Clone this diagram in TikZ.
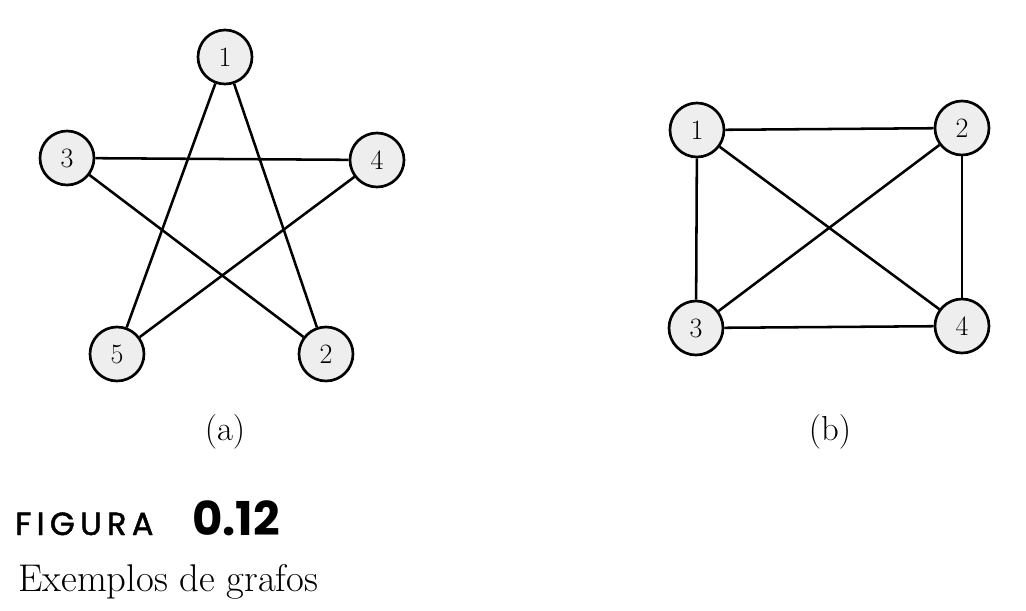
\documentclass[tikz,border=0pt]{standalone}
\usepackage{fontspec}
\newfontfamily\capfont{Poppins}[FakeBold=1.5]
\newfontfamily\capfontbold{Poppins}[UprightFont=* Bold]
\definecolor{nodefill}{HTML}{EEEEEE}
\begin{document}
\begin{tikzpicture}[x=0.75pt,y=-0.75pt,
  vert/.style={circle,draw,line width=2pt,fill=nodefill,minimum size=54*0.75pt,inner sep=0pt,font=\fontsize{21}{24}\selectfont},
  edge/.style={line width=1.9pt},
  sublabel/.style={font=\fontsize{26}{30}\selectfont}]
\useasboundingbox (0,0) rectangle (1026,611);
% graph (a)
\node[vert] (a1) at (225,57) {1};
\node[vert] (a3) at (67,158) {3};
\node[vert] (a4) at (377,160) {4};
\node[vert] (a5) at (117,354) {5};
\node[vert] (a2) at (326,354) {2};
\draw[edge] (a1) -- (a5);
\draw[edge] (a1) -- (a2);
\draw[edge] (a3) -- (a4);
\draw[edge] (a3) -- (a2);
\draw[edge] (a4) -- (a5);
\node[sublabel] (la) at (225,432) {(a)};
% graph (b)
\node[vert] (b1) at (697,130) {1};
\node[vert] (b2) at (962,128) {2};
\node[vert] (b3) at (696,328) {3};
\node[vert] (b4) at (962,326) {4};
\draw[edge] (b1) -- (b2);
\draw[edge] (b1) -- (b3);
\draw[edge] (b1) -- (b4);
\draw[edge] (b2) -- (b3);
\draw[edge] (b2) -- (b4);
\draw[edge] (b3) -- (b4);
\node[sublabel] (lb) at (830,432) {(b)};
% caption
\node[anchor=base west,inner sep=0pt] (fig) at (15,535) {\capfont\fontsize{24}{26}\selectfont F\,I\,G\,U\,R\,A};
\node[anchor=base west,inner sep=0pt] (num) at (192,535) {\capfontbold\fontsize{35}{36}\selectfont 0.12};
\node[anchor=base west,inner sep=0pt] (cap) at (18,591) {\fontsize{29}{33}\selectfont Exemplos de grafos};
\end{tikzpicture}
\end{document}
